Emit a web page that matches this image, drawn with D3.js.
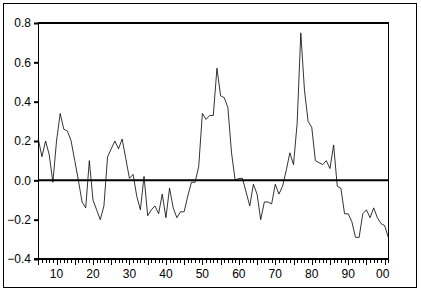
<!DOCTYPE html>
<html><head><meta charset="utf-8">
<script src="https://cdn.jsdelivr.net/npm/d3@7"></script>
<style>body{margin:0;background:#fff}svg{display:block}text{font-family:"Liberation Sans",Arial,sans-serif;font-size:12px;fill:#000}</style>
</head><body>
<script>
const startYear = 1905;
const values = [0.21,0.12,0.20,0.13,-0.01,0.20,0.34,0.26,0.25,0.20,
0.10,0.00,-0.11,-0.14,0.10,-0.10,-0.15,-0.20,-0.13,0.12,
0.16,0.20,0.16,0.21,0.11,0.01,0.03,-0.08,-0.15,0.02,
-0.18,-0.15,-0.13,-0.17,-0.07,-0.19,-0.04,-0.14,-0.19,-0.16,
-0.16,-0.08,-0.01,-0.01,0.07,0.34,0.31,0.33,0.33,0.57,
0.43,0.42,0.37,0.14,0.00,0.01,0.01,-0.06,-0.13,-0.02,
-0.07,-0.20,-0.11,-0.11,-0.12,-0.02,-0.07,-0.03,0.05,0.14,
0.08,0.29,0.75,0.46,0.30,0.27,0.10,0.09,0.08,0.10,
0.06,0.18,-0.03,-0.04,-0.17,-0.17,-0.21,-0.29,-0.29,-0.17,
-0.15,-0.19,-0.14,-0.19,-0.22,-0.23,-0.29];
const years = values.map((v,i)=>startYear+i);
const yTicks = [-0.4,-0.2,0.0,0.2,0.4,0.6,0.8];
const xLabelYears = [1910,1920,1930,1940,1950,1960,1970,1980,1990,2000];
const xLabels = ["10","20","30","40","50","60","70","80","90","00"];

const W=421,H=293;
const svg=d3.select("body").append("svg").attr("width",W).attr("height",H);
svg.append("rect").attr("x",3.5).attr("y",3.5).attr("width",413).attr("height",284)
  .attr("fill","none").attr("stroke","#000").attr("stroke-width",1);

const L=38,R=388,T=23,B=259;
const x=d3.scaleLinear().domain([startYear,startYear+values.length-1]).range([L+0.3,R+0.3]);
const y=d3.scaleLinear().domain([-0.4,0.8]).range([B,T]);

svg.append("line").attr("x1",L+0.5).attr("x2",L+0.5).attr("y1",T).attr("y2",B).attr("stroke","#000");
svg.append("line").attr("x1",R+0.5).attr("x2",R+0.5).attr("y1",T).attr("y2",B).attr("stroke","#000");
svg.append("line").attr("x1",L).attr("x2",R+1).attr("y1",y(0.8)).attr("y2",y(0.8)).attr("stroke","#000").attr("stroke-width",2);
svg.append("line").attr("x1",L).attr("x2",R+1).attr("y1",y(0)).attr("y2",y(0)).attr("stroke","#000").attr("stroke-width",2);
svg.append("line").attr("x1",L-4).attr("x2",R+1).attr("y1",B).attr("y2",B).attr("stroke","#000").attr("stroke-width",2);

const yAxis=d3.axisLeft(y).tickValues(yTicks).tickFormat(d3.format(".1f")).tickSize(4).tickPadding(3);
const gy=svg.append("g").attr("transform",`translate(${L},0)`).call(yAxis);
gy.select(".domain").remove();
gy.selectAll(".tick line").attr("stroke-width",2);
gy.selectAll("text").style("font-size","12px").style("font-family","'Liberation Sans',Arial,sans-serif").attr("fill","#000");

const allYears=d3.range(startYear,startYear+values.length);
const gx=svg.append("g").attr("transform",`translate(0,${B})`);
const xAxisMinor=d3.axisBottom(x).tickValues(allYears).tickSize(4).tickFormat("");
const gxm=gx.append("g").call(xAxisMinor);
gxm.select(".domain").remove();
gxm.selectAll(".tick line").attr("stroke-width",1).attr("shape-rendering","crispEdges");
const xAxisMajor=d3.axisBottom(x).tickValues(allYears.filter(v=>v%5===0)).tickSize(6).tickFormat("");
const gxM=gx.append("g").call(xAxisMajor);
gxM.select(".domain").remove();
gxM.selectAll(".tick line").attr("shape-rendering","crispEdges");
gx.selectAll(".lbl").data(xLabelYears).enter().append("text").attr("class","lbl")
  .attr("x",(d,i)=> d===2000 ? x(d)-2 : x(d)).attr("y",19).attr("text-anchor","middle")
  .text((d,i)=>xLabels[i]);

const line=d3.line().x((d,i)=>x(years[i])).y(d=>y(d));
svg.append("path").datum(values).attr("d",line).attr("fill","none").attr("stroke","#000").attr("stroke-width",0.8);
</script>
</body></html>
